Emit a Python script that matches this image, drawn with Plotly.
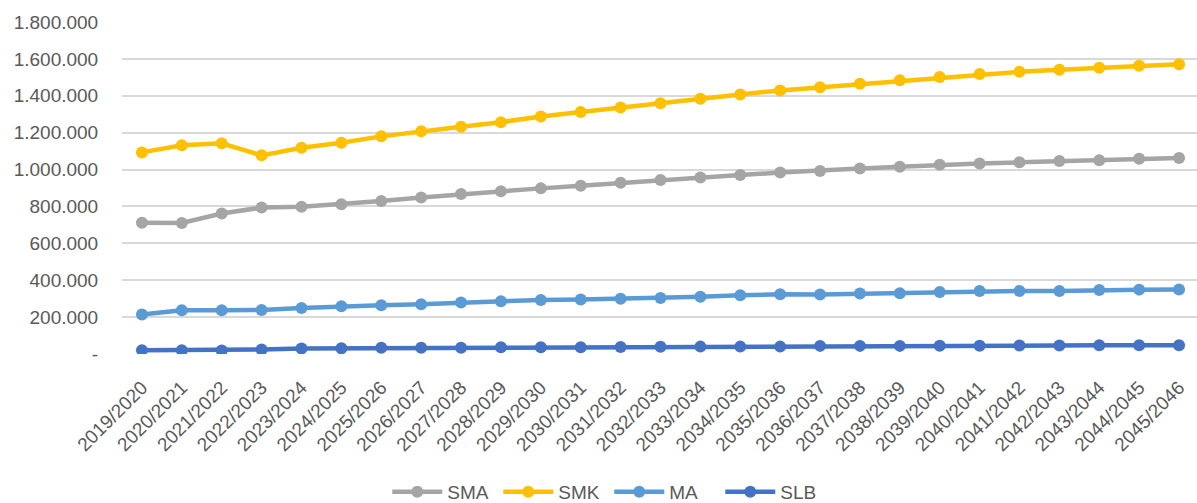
import plotly.graph_objects as go

categories = [f"{y}/{y+1}" for y in range(2019, 2046)]

sma = [711000, 710000, 762000, 794000, 798000, 812000, 830000, 849000, 867000, 883000,
       898000, 912000, 928000, 943000, 957000, 970000, 984000, 992000, 1006000, 1015000,
       1026000, 1033000, 1039000, 1046000, 1051000, 1058000, 1063000]
smk = [1093000, 1132000, 1142000, 1077000, 1118000, 1145000, 1180000, 1208000, 1232000, 1257000,
       1288000, 1312000, 1337000, 1359000, 1384000, 1407000, 1429000, 1446000, 1465000, 1484000,
       1502000, 1518000, 1530000, 1541000, 1552000, 1563000, 1571000]
ma = [214000, 237000, 237000, 239000, 250000, 259000, 264000, 270000, 279000, 286000,
      293000, 295000, 299000, 304000, 311000, 318000, 324000, 323000, 328000, 329000,
      336000, 342000, 342000, 342000, 347000, 349000, 350000]
slb = [21000, 20000, 19000, 24000, 30000, 31000, 34000, 34000, 34000, 37000,
       37000, 37000, 38000, 39000, 40000, 40000, 40000, 44000, 44000, 44000,
       45000, 45000, 46000, 46000, 47000, 47000, 48000]

series_names = ["SMA", "SMK", "MA", "SLB"]
series_colors = ["#A5A5A5", "#FFC000", "#5B9BD5", "#4472C4"]

y_tickvals = [0, 200000, 400000, 600000, 800000, 1000000, 1200000, 1400000, 1600000, 1800000]
y_ticktext = ["-", "200.000", "400.000", "600.000", "800.000", "1.000.000",
              "1.200.000", "1.400.000", "1.600.000", "1.800.000"]

FONT = "Liberation Sans, Arial, sans-serif"
TXT = "#595959"

fig = go.Figure()
for name, vals, col in zip(series_names, [sma, smk, ma, slb], series_colors):
    fig.add_trace(go.Scatter(
        x=list(range(len(categories))), y=vals, name=name, mode="lines+markers",
        line=dict(color=col, width=4.5),
        marker=dict(color=col, size=12),
    ))

fig.update_layout(
    width=1197, height=503,
    margin=dict(l=122, r=0, t=22, b=149),
    paper_bgcolor="white", plot_bgcolor="white",
    font=dict(family=FONT, size=19, color=TXT),
    showlegend=True,
    legend=dict(orientation="h", xref="container", yref="container",
                x=0.509, xanchor="center", y=0.022, yanchor="middle",
                font=dict(family=FONT, size=19, color=TXT),
                itemwidth=50, entrywidth=46, entrywidthmode="pixels",
                tracegroupgap=0),
)
fig.update_xaxes(
    range=[-0.5, 26.45],
    tickmode="array", tickvals=list(range(len(categories))), ticktext=categories,
    tickangle=-45, showgrid=False, zeroline=False, showline=False,
    ticks="outside", ticklen=14, tickcolor="rgba(0,0,0,0)",
    tickfont=dict(family=FONT, size=19, color=TXT),
)
fig.update_yaxes(
    range=[0, 1800000],
    tickmode="array", tickvals=y_tickvals, ticktext=y_ticktext,
    showgrid=True, gridcolor="#D9D9D9", gridwidth=1.5,
    zeroline=False, showline=False,
    ticks="outside", ticklen=19, tickcolor="rgba(0,0,0,0)",
    tickfont=dict(family=FONT, size=19, color=TXT),
)

fig.write_html("out.html", config={"displayModeBar": False},
               post_script="document.body.style.margin='0px';")
